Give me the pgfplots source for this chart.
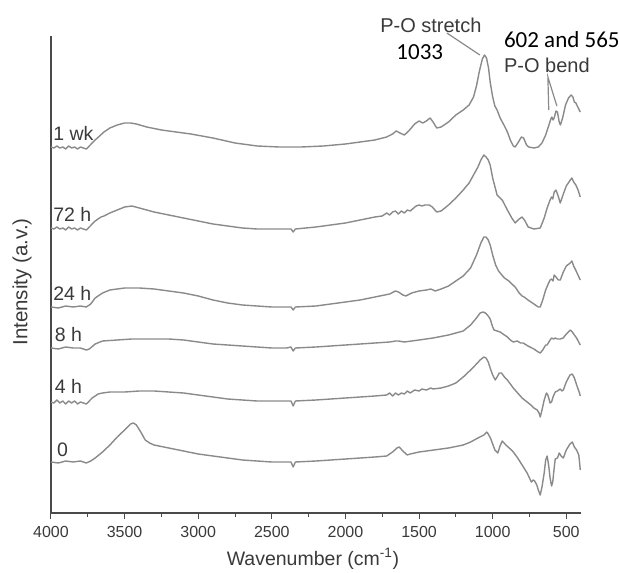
\documentclass[border=0pt]{standalone}
\usepackage{pgfplots}
\pgfplotsset{compat=1.18}
\usepackage{pgfplotstable}
\usepackage{fontspec}
\setmainfont{Liberation Sans}
\newfontfamily\calfont{Carlito}
\usetikzlibrary{calc}
\definecolor{trace}{HTML}{8A8A8A}
\definecolor{axc}{HTML}{4A4A4A}
\definecolor{txt}{HTML}{3A3A3A}
\tikzset{sp/.style={color=trace, line width=1.4pt, mark=none, solid, line join=round}}

% columns: wavenumber, pixel row (axis at 513)
\pgfplotstableread{
wn py
4000 147
3980 148
3960 146
3940 148
3920 147
3900 149
3880 146
3860 148
3840 147
3820 149
3800 147
3780 148
3760 149
3740 146
3720 143
3700 140
3670 136
3640 132
3600 128
3550 125
3500 123
3460 123
3420 124
3350 127
3250 130
3150 132
3050 134
2900 138
2750 143
2600 146
2450 147
2300 147
2150 146
2000 144
1900 142
1800 140
1720 137
1680 134
1655 131
1630 133
1600 135
1570 131
1530 124
1500 121
1475 123
1450 121
1425 118
1405 122
1380 128
1350 127
1300 122
1250 115
1200 110
1160 105
1130 97
1110 86
1090 71
1070 59
1055 55
1042 58
1028 68
1017 82
1000 97
985 106
970 110
949 118
920 126
900 132
880 140
860 146
847 147
825 142
805 137
790 138
770 145
755 147
720 148
690 147
665 143
640 135
620 126
605 119
598 117
590 120
582 118
570 111
560 112
548 122
540 125
525 118
505 105
485 98
467 95
455 97
445 102
435 103
425 106
412 110
405 112
}\tabwk

\pgfplotstableread{
wn py
4000 228
3980 229
3960 227
3940 229
3920 228
3900 230
3880 227
3860 229
3840 228
3820 230
3800 228
3780 229
3760 230
3740 227
3720 224
3700 221
3680 219
3660 217
3640 216
3600 213
3550 210
3500 207
3450 206
3400 208
3300 212
3200 215
3100 218
3000 221
2900 224
2800 226
2700 228
2600 229
2500 229
2400 229
2370 229
2355 232
2340 229
2200 227
2100 225
2000 223
1900 220
1800 217
1750 216
1720 213
1700 215
1680 212
1660 211
1640 214
1620 211
1600 213
1580 210
1560 211
1520 206
1500 205
1480 206
1460 205
1430 205
1410 207
1380 212
1350 211
1300 205
1250 198
1200 190
1160 183
1130 175
1100 167
1080 160
1060 155
1045 157
1030 160
1017 165
1000 178
970 195
935 200
900 210
870 218
847 223
820 219
800 217
780 221
759 227
720 229
677 228
650 218
630 208
610 200
600 197
592 199
582 192
570 190
555 196
541 203
520 194
500 186
473 180
462 178
450 182
435 185
420 190
405 197
}\tabhb

\pgfplotstableread{
wn py
4000 307
3950 308
3900 306
3850 307
3800 306
3760 307
3730 304
3700 298
3650 293
3600 290
3500 288
3400 288
3300 289
3200 291
3100 293
3000 296
2900 300
2800 303
2700 305
2600 306
2500 307
2400 307
2370 307
2355 310
2340 307
2200 306
2100 304
2000 302
1900 300
1800 297
1700 294
1660 291
1640 292
1610 295
1590 296
1550 293
1500 291
1450 290
1420 289
1390 291
1350 289
1300 286
1250 281
1200 276
1150 268
1110 255
1080 243
1060 237
1045 237
1030 240
1017 245
1000 255
980 265
960 271
949 273
920 278
890 281
870 284
847 287
820 293
800 296
786 297
760 300
720 304
690 307
677 307
660 300
640 290
620 283
610 280
600 279
590 281
582 275
570 277
555 280
541 280
520 272
500 266
473 263
462 261
450 266
430 272
405 280
}\tabha

\pgfplotstableread{
wn py
4000 348
3950 349
3900 347
3850 348
3800 348
3760 350
3740 349
3700 344
3650 341
3550 340
3450 339
3300 339
3200 339
3100 340
3000 342
2900 344
2800 345
2700 346
2600 347
2500 348
2400 348
2370 347
2355 351
2340 348
2200 347
2100 346
2000 345
1900 344
1800 343
1700 342
1660 341
1640 341
1600 342
1500 340
1405 338
1300 335
1250 333
1200 331
1150 325
1110 318
1085 313
1064 312
1050 313
1030 316
1017 319
1000 327
990 330
970 331
949 332
920 335
900 337
880 340
860 342
833 341
810 343
793 343
760 346
720 349
690 352
677 353
660 350
640 345
630 345
610 340
600 338
585 339
575 338
560 339
541 339
521 338
500 334
473 330
459 332
445 335
430 338
405 345
}\tabhc

\pgfplotstableread{
wn py
4000 402
3980 403
3960 400
3940 403
3920 401
3900 404
3880 401
3860 403
3840 401
3820 404
3800 402
3780 403
3760 404
3740 401
3720 398
3700 396
3680 394
3650 393
3600 392
3500 392
3400 391
3300 391
3200 392
3100 393
3000 395
2900 397
2800 399
2700 400
2600 401
2500 401
2400 401
2370 401
2355 406
2340 401
2200 400
2100 399
2000 398
1900 397
1800 396
1720 395
1700 393
1680 396
1660 393
1640 395
1620 393
1600 394
1580 391
1560 393
1530 390
1500 391
1480 389
1450 390
1420 388
1405 389
1350 388
1300 386
1250 383
1200 377
1150 370
1110 364
1085 360
1060 357
1045 358
1030 362
1017 368
1000 375
983 380
970 377
955 373
940 373
920 377
900 380
860 388
830 393
800 398
766 402
740 405
720 408
697 410
685 413
677 417
665 410
650 400
635 393
625 395
610 403
600 402
590 397
575 392
560 391
541 389
530 391
520 390
500 382
475 375
459 374
445 378
425 387
410 393
405 396
}\tabhd

\pgfplotstableread{
wn py
4000 462
3950 463
3900 461
3850 462
3800 461
3760 463
3730 461
3700 458
3650 452
3600 445
3550 437
3500 430
3460 424
3440 423
3420 425
3390 432
3360 440
3330 443
3300 445
3200 448
3100 451
3000 454
2900 456
2800 458
2700 460
2600 461
2500 462
2400 462
2370 462
2355 467
2340 462
2200 461
2100 460
2000 459
1900 458
1800 457
1720 456
1680 452
1650 448
1635 447
1610 451
1580 455
1560 454
1500 452
1400 450
1300 448
1200 445
1150 442
1100 438
1060 435
1040 432
1030 434
1015 438
1000 444
985 450
965 453
950 446
935 441
910 445
880 449
860 452
830 458
800 465
766 473
750 478
737 482
725 480
715 481
700 485
690 490
677 495
665 487
650 473
640 460
630 456
620 465
610 478
600 486
592 482
580 465
575 459
560 458
548 453
535 456
520 458
500 450
475 444
459 442
445 447
430 450
415 455
410 462
405 470
}\tabhz

\begin{document}
\begin{tikzpicture}
\begin{axis}[
  scale only axis, width=530pt, height=477pt,
  xmin=400, xmax=4000, x dir=reverse,
  ymin=0, ymax=477,
  axis x line=bottom, axis y line=left,
  axis line style={axc, line width=1.2pt, -},
  ytick=\empty,
  xtick={500,1000,...,4000},
  minor x tick num=1,
  tick align=outside,
  major tick length=6pt, minor tick length=3.5pt,
  tick style={axc, line width=1pt},
  xticklabel style={font=\fontsize{16}{18}\selectfont, text=txt, yshift=-4pt},
  /pgf/number format/assume math mode=true,
  /pgf/number format/1000 sep={},
  clip=false,
]
\addplot[sp] table[x=wn, y expr=513-\thisrow{py}] {\tabwk};
\addplot[sp] table[x=wn, y expr=513-\thisrow{py}] {\tabhb};
\addplot[sp] table[x=wn, y expr=513-\thisrow{py}] {\tabha};
\addplot[sp] table[x=wn, y expr=513-\thisrow{py}] {\tabhc};
\addplot[sp] table[x=wn, y expr=513-\thisrow{py}] {\tabhd};
\addplot[sp] table[x=wn, y expr=513-\thisrow{py}] {\tabhz};
\coordinate (LL) at (axis cs:4000,0);
\coordinate (UR) at (axis cs:400,477);
% trace labels
\node[anchor=west, inner sep=0pt, text=txt, font=\fontsize{19.5}{22}\selectfont] at (axis cs:3985,380) {1 wk};
\node[anchor=west, inner sep=0pt, text=txt, font=\fontsize{19.5}{22}\selectfont] at (axis cs:3985,299) {72 h};
\node[anchor=west, inner sep=0pt, text=txt, font=\fontsize{19.5}{22}\selectfont] at (axis cs:3985,220) {24 h};
\node[anchor=west, inner sep=0pt, text=txt, font=\fontsize{19.5}{22}\selectfont] at (axis cs:3975,178) {8 h};
\node[anchor=west, inner sep=0pt, text=txt, font=\fontsize{19.5}{22}\selectfont] at (axis cs:3975,127) {4 h};
\node[anchor=west, inner sep=0pt, text=txt, font=\fontsize{19.5}{22}\selectfont] at (axis cs:3960,63) {0};
% axis labels
\node[rotate=90, text=txt, font=\fontsize{20.5}{23}\selectfont] at (axis cs:4197,231) {Intensity (a.v.)};
\node[text=txt, inner sep=0pt, font=\fontsize{19.5}{22}\selectfont] at (axis cs:2221,-46) {Wavenumber (cm\textsuperscript{-1})};
% annotations
\node[text=txt, font=\fontsize{20}{22}\selectfont] at (axis cs:1420,488) {P-O stretch};
\node[text=black, font=\calfont\fontsize{23}{25}\selectfont] at (axis cs:1495,461) {1033};
\draw[trace, line width=1.2pt] (axis cs:1311,480) -- (axis cs:1087,458);
\node[anchor=west, inner sep=0pt, text=black, font=\calfont\fontsize{23}{25}\selectfont] at (axis cs:924,473) {602 and 565};
\node[anchor=west, inner sep=0pt, text=txt, font=\fontsize{20}{22}\selectfont] at (axis cs:924,448) {P-O bend};
\draw[trace, line width=1.2pt] (axis cs:619,403) -- (axis cs:625,436) -- (axis cs:564,407);
\end{axis}
\pgfresetboundingbox
\path ($(LL)+(-51pt,-59pt)$) rectangle ($(UR)+(38pt,36pt)$);
\end{tikzpicture}
\end{document}
